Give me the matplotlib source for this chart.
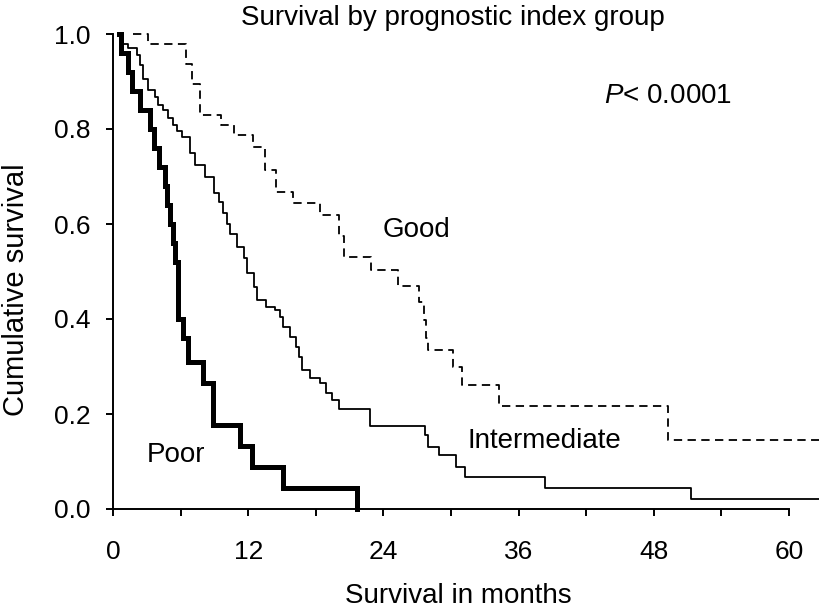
import numpy as np
import matplotlib
matplotlib.use("Agg")
import matplotlib.pyplot as plt

plt.rcParams['font.family'] = ['Liberation Sans', 'DejaVu Sans']
plt.rcParams['mathtext.fontset'] = 'custom'
plt.rcParams['mathtext.rm'] = 'Liberation Sans'
plt.rcParams['mathtext.it'] = 'Liberation Sans:italic'

# Kaplan-Meier steps (months, cumulative survival)
good_t = [1.8, 3.1, 6.5, 7.0, 7.7, 9.6, 10.7, 12.4, 13.5, 14.5, 16.0, 18.4, 20.1, 20.5,
          22.9, 25.3, 27.2, 27.6, 27.8, 28.0, 30.2, 31.0, 34.3, 49.3]
good_s = [1.0, 0.979, 0.936, 0.894, 0.83, 0.808, 0.787, 0.763, 0.714, 0.668, 0.645, 0.619, 0.574, 0.531,
          0.503, 0.469, 0.436, 0.398, 0.36, 0.335, 0.30, 0.261, 0.217, 0.145]

inter_t = [0.8, 0.9, 1.3, 2.1, 2.4, 2.7, 3.1, 3.7, 4.0, 4.4, 4.9, 5.3, 5.7, 6.1, 6.8, 7.3, 8.2, 9.0, 9.4,
           9.8, 10.1, 10.4, 11.0, 11.6, 11.9, 12.5, 12.8, 13.6, 14.4, 14.8, 15.1, 15.7, 16.2, 16.5,
           16.8, 17.5, 18.4, 18.9, 19.4, 20.1, 22.8, 27.7, 28.0, 28.9, 30.4, 31.2, 38.3, 51.3]
inter_s = [1.0, 0.98, 0.97, 0.955, 0.935, 0.905, 0.883, 0.868, 0.85, 0.84, 0.823, 0.809, 0.795, 0.784,
           0.749, 0.724, 0.70, 0.665, 0.647, 0.623, 0.60, 0.58, 0.552, 0.528, 0.496, 0.468, 0.44, 0.426,
           0.419, 0.405, 0.384, 0.363, 0.342, 0.321, 0.293, 0.275, 0.265, 0.245, 0.23, 0.21, 0.175,
           0.156, 0.131, 0.114, 0.089, 0.068, 0.045, 0.021]

poor_t = [0.55, 0.75, 1.3, 1.7, 2.4, 3.3, 3.6, 4.1, 4.6, 4.8, 5.06, 5.3, 5.5, 5.8, 6.2, 6.7,
          8.0, 8.9, 11.3, 12.3, 15.1, 21.7]
poor_s = [1.0, 0.96, 0.92, 0.88, 0.84, 0.80, 0.76, 0.72, 0.68, 0.64, 0.60, 0.56, 0.52, 0.40, 0.36, 0.31,
          0.265, 0.177, 0.133, 0.089, 0.044, 0.0]

followup_end = 62.66

xticks = list(range(0, 61, 6))
xticklabels = ['0', '', '12', '', '24', '', '36', '', '48', '', '60']
yticks = [0.0, 0.2, 0.4, 0.6, 0.8, 1.0]
yticklabels = ['0.0', '0.2', '0.4', '0.6', '0.8', '1.0']

fig = plt.figure(figsize=(8.19, 6.10), dpi=100)
ax = fig.add_axes([113/819, 101/610, 706/819, 475/610])

# good group: dashed
ax.step(good_t + [followup_end], good_s + [good_s[-1]], where='post', color='black',
        lw=1.3, ls=(0, (4.6, 3.0)), clip_on=False, dash_capstyle='butt')
# intermediate group: thin solid
ax.step(inter_t + [followup_end], inter_s + [inter_s[-1]], where='post', color='black',
        lw=1.3, clip_on=False)
# poor group: thick solid, ends at last death
ax.step(poor_t, poor_s, where='post', color='black', lw=3.6, clip_on=False,
        solid_joinstyle='miter')

ax.set_xlim(0, followup_end)
ax.set_ylim(0, 1)
ax.spines['top'].set_visible(False)
ax.spines['right'].set_visible(False)
ax.spines['left'].set_bounds(0, 1)
ax.spines['bottom'].set_bounds(0, 60)
ax.spines['left'].set_linewidth(1.4)
ax.spines['bottom'].set_linewidth(1.4)

ax.set_xticks(xticks)
ax.set_xticklabels(xticklabels)
ax.set_yticks(yticks)
ax.set_yticklabels(yticklabels)
ax.tick_params(direction='out', length=5, width=1.4, labelsize=19)
ax.tick_params(axis='x', pad=17)
ax.tick_params(axis='y', pad=11)

ax.set_xlabel('Survival in months', fontsize=20, va='baseline')
ax.xaxis.set_label_coords(0.489, -0.198)
ax.set_ylabel('Cumulative survival', fontsize=21, va='center')
ax.yaxis.set_label_coords(-0.137, 0.461)

ax.text(30.2, 1.019, 'Survival by prognostic index group', fontsize=20, ha='center', va='baseline')
ax.text(43.6, 0.869, r'$P$< 0.0001', fontsize=20, va='center')
ax.text(23.9, 0.587, 'Good', fontsize=20, va='center')
ax.text(31.5, 0.143, 'Intermediate', fontsize=20, va='center')
ax.text(3.0, 0.114, 'Poor', fontsize=20, va='center')

plt.savefig('out.png', dpi=100)
